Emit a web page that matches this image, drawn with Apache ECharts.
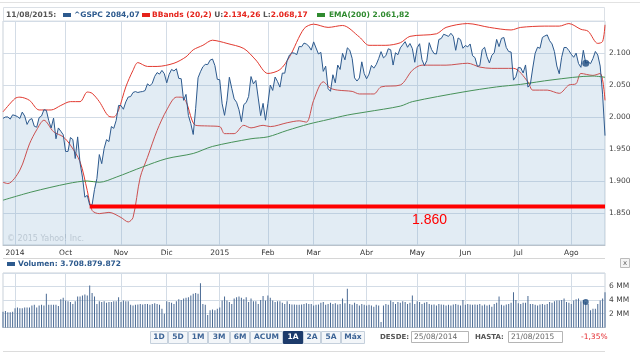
<!DOCTYPE html>
<html>
<head>
<meta charset="utf-8">
<script src="https://cdn.jsdelivr.net/npm/echarts@6/dist/echarts.min.js"></script>
<style>
  html, body { margin: 0; padding: 0; background: #fff; }
  #chart { width: 640px; height: 353px; }
</style>
</head>
<body>
<div id="chart"></div>
<script>
// ---- data ----
const firstDay = '2014-08-25';
const lastDay = '2015-08-21';
const marketHolidays = ['2014-09-01', '2014-11-27', '2014-12-25', '2015-01-01', '2015-01-19',
  '2015-02-16', '2015-04-03', '2015-05-25', '2015-07-03'];
const monthNames = ['Ene', 'Feb', 'Mar', 'Abr', 'May', 'Jun', 'Jul', 'Ago', 'Sep', 'Oct', 'Nov', 'Dic'];

// ^GSPC daily close
const closeValues = [
  1997.9, 2000.0, 2000.1, 1996.7, 2003.4,
  2002.3, 2000.7, 1997.7, 2007.7, 2001.5, 1988.4, 1995.7, 1997.5, 1985.5, 1984.1, 1999.0, 2001.6, 2011.4, 2010.4,
  1994.3, 1982.8, 1998.3, 1966.0, 1982.9, 1977.8, 1972.3,
  1946.2, 1946.2, 1967.9, 1964.8, 1935.1, 1968.9, 1928.2, 1906.1, 1874.7, 1877.7, 1862.5, 1862.8, 1886.8,
  1904.0, 1941.3, 1927.1, 1950.8, 1964.6, 1961.6, 1985.1, 1982.3, 1994.7, 2018.1,
  2017.8, 2012.1, 2023.6, 2031.2, 2031.9, 2038.3, 2039.7, 2038.3, 2039.3, 2039.8, 2041.3, 2051.8, 2048.7,
  2052.8, 2063.5, 2069.4, 2067.0, 2072.8, 2067.6,
  2053.4, 2066.6, 2074.3, 2071.9, 2075.4, 2060.3, 2059.8, 2026.1, 2035.3, 2002.3, 1989.6, 1972.7, 2012.9,
  2061.2, 2070.7, 2078.5, 2082.2, 2081.9, 2088.8, 2090.6, 2080.4, 2058.9,
  2058.2, 2020.6, 2002.6, 2025.9, 2062.1, 2044.8, 2028.3, 2023.0, 2011.3, 1992.7, 2019.4, 2022.6, 2032.1,
  2063.2, 2051.8, 2057.1, 2029.6, 2002.2, 2021.3, 1995.0,
  2020.9, 2050.0, 2041.5, 2062.5, 2055.5, 2046.7, 2068.6, 2068.5, 2088.5, 2097.0, 2100.3, 2099.7, 2097.5,
  2110.3, 2109.7, 2115.5, 2113.9, 2110.7, 2104.5,
  2117.4, 2107.8, 2098.5, 2101.0, 2071.3, 2079.4, 2044.2, 2040.2, 2066.0, 2053.4, 2081.2, 2074.3, 2099.5,
  2089.3, 2108.1, 2104.4, 2091.5, 2061.1, 2056.2, 2061.0, 2086.2, 2067.9,
  2059.7, 2067.0, 2080.6, 2076.3, 2081.9, 2091.2, 2102.1, 2092.4, 2095.8, 2106.6, 2105.0, 2081.2, 2100.4,
  2097.3, 2108.0, 2112.9, 2117.7, 2108.9, 2114.8, 2106.9, 2085.5,
  2108.3, 2114.5, 2089.5, 2080.2, 2088.0, 2116.1, 2105.3, 2099.1, 2098.5, 2121.1, 2122.7, 2129.2, 2127.8,
  2125.9, 2130.8, 2126.1, 2104.2, 2123.5, 2120.8, 2107.4,
  2111.7, 2109.6, 2114.1, 2095.8, 2092.8, 2079.3, 2080.2, 2105.2, 2108.9, 2094.1, 2084.4, 2096.3, 2100.4,
  2121.2, 2110.0, 2122.9, 2124.2, 2108.6, 2102.3, 2101.5, 2057.6, 2063.1,
  2077.4, 2076.8, 2068.8, 2081.3, 2046.7, 2051.3, 2076.6, 2099.6, 2109.0, 2107.4, 2124.3, 2126.6, 2128.3,
  2119.2, 2114.2, 2102.2, 2079.7, 2067.6, 2093.3, 2108.6, 2108.6, 2103.8,
  2098.0, 2093.3, 2099.8, 2083.6, 2077.6, 2104.2, 2084.07, 2086.1, 2083.4, 2091.5, 2102.4, 2096.9, 2079.6,
  2035.7, 1970.9
];

// daily volume, in MM (thousand millions)
const volumeValues = [
  2.3, 2.4, 2.2, 2.2, 2.3,
  2.8, 2.9, 2.8, 2.8, 2.9, 2.9, 2.9, 3.2, 3.3,
  2.9, 3.2, 3.3, 3.2, 4.9,
  3.3, 3.3, 3.3, 3.3, 3.1,
  4.1, 4.3, 3.9, 3.8, 3.7,
  3.4, 3.8, 4.5, 4.5, 4.65,
  4.8, 4.65, 6.1, 5.0, 4.5,
  3.4, 3.8, 3.7, 3.8, 3.6,
  3.7, 3.7, 3.8, 3.8, 4.4,
  3.7, 3.9, 3.8, 3.8, 3.3,
  3.2, 3.3, 3.35, 3.4, 3.35,
  3.4, 3.4, 3.3, 3.4, 3.5,
  3.4, 3.3, 2.7, 2.0,
  3.8, 3.7, 3.6, 3.4, 3.8,
  4.1, 4.0, 4.2, 4.3, 4.4,
  4.65, 4.9, 5.0, 4.9, 6.4,
  3.4, 3.3, 1.8, 2.5, 2.6,
  2.5, 2.7, 2.9, 3.9, 4.5,
  3.9, 3.7, 3.4, 4.2, 4.4,
  4.5, 4.3, 4.1, 4.4, 3.7,
  4.2, 3.8, 3.8, 3.4, 4.0,
  4.55, 3.9, 4.65, 4.3, 3.9,
  3.7, 3.8, 3.8, 3.6, 3.4,
  3.8, 3.4, 3.35, 3.35, 3.3,
  3.3, 3.35, 3.4, 3.5, 3.4,
  3.4, 3.2, 3.3, 3.35, 3.6,
  3.7, 3.3, 3.4, 3.6,
  3.4, 3.5, 3.35, 3.4, 4.2, 3.5,
  5.6,
  3.4, 3.3, 3.6, 3.4, 3.2,
  3.4, 3.3, 3.2, 3.3,
  3.2, 3.0, 3.3, 3.2,
  0.8,
  3.2, 3.4, 3.3, 3.9, 3.7,
  3.4, 3.7, 3.6, 3.8, 3.7,
  3.4, 3.6, 4.65, 3.4, 3.8,
  3.7, 3.4, 3.6, 3.7,
  3.4, 3.3, 3.35, 3.2,
  3.4, 3.35, 3.3, 3.2, 3.3,
  3.2, 3.35, 3.4, 3.3, 3.2,
  4.0, 3.3, 3.4, 3.35, 3.3,
  3.35, 3.3, 3.4, 3.2, 3.35,
  3.2, 3.3, 3.0, 3.4, 3.6,
  4.5, 3.3, 3.2, 3.35, 3.4, 3.6,
  5.1,
  4.0, 3.5, 3.4, 3.6, 3.6,
  4.55,
  3.4, 3.4, 3.3, 3.2, 3.35,
  3.4, 3.3, 3.4, 3.7,
  3.6, 3.8, 3.9, 3.9, 4.0,
  4.2, 3.7, 3.6, 3.4, 3.9,
  4.1, 4.2, 3.8, 4.0, 3.71,
  3.4, 2.5, 2.7, 2.7, 3.4,
  3.9, 4.2, 5.1
];

// BBands (20,2) upper / lower and EMA(200), read at turning points
const bbUpper = [
  ['2014-08-25', 2008], ['2014-09-02', 2029], ['2014-09-04', 2031], ['2014-09-10', 2026], ['2014-09-16', 2011],
  ['2014-09-23', 2011], ['2014-09-29', 2018], ['2014-10-03', 2024], ['2014-10-09', 2024], ['2014-10-14', 2039],
  ['2014-10-16', 2037], ['2014-10-21', 2024], ['2014-10-27', 2001], ['2014-10-29', 2000], ['2014-10-31', 2011],
  ['2014-11-05', 2047], ['2014-11-10', 2073], ['2014-11-12', 2085], ['2014-11-18', 2079], ['2014-11-24', 2079],
  ['2014-12-04', 2084], ['2014-12-11', 2094], ['2014-12-16', 2105], ['2014-12-22', 2112], ['2014-12-29', 2120],
  ['2015-01-02', 2118], ['2015-01-07', 2115], ['2015-01-16', 2107], ['2015-01-26', 2089], ['2015-02-02', 2068],
  ['2015-02-09', 2074], ['2015-02-13', 2094], ['2015-02-24', 2138], ['2015-03-02', 2145], ['2015-03-10', 2140],
  ['2015-03-18', 2143], ['2015-03-27', 2125], ['2015-04-02', 2112], ['2015-04-14', 2112], ['2015-04-22', 2116],
  ['2015-04-28', 2126], ['2015-05-13', 2130], ['2015-05-19', 2140], ['2015-06-02', 2146], ['2015-06-15', 2140],
  ['2015-06-26', 2136], ['2015-07-02', 2140], ['2015-07-17', 2142], ['2015-07-27', 2142], ['2015-07-31', 2146],
  ['2015-08-07', 2137], ['2015-08-12', 2134], ['2015-08-18', 2115], ['2015-08-20', 2118], ['2015-08-21', 2144]
];
const bbLower = [
  ['2014-08-25', 1898], ['2014-08-27', 1896], ['2014-09-04', 1917], ['2014-09-10', 1958], ['2014-09-15', 1980],
  ['2014-09-18', 1995], ['2014-09-24', 1977], ['2014-09-30', 1969], ['2014-10-03', 1956], ['2014-10-09', 1930],
  ['2014-10-14', 1885], ['2014-10-16', 1854], ['2014-10-21', 1849], ['2014-10-27', 1851], ['2014-11-03', 1843],
  ['2014-11-06', 1836], ['2014-11-10', 1843], ['2014-11-13', 1906], ['2014-11-18', 1937], ['2014-11-24', 1979],
  ['2014-12-01', 2011], ['2014-12-05', 2031], ['2014-12-09', 2031], ['2014-12-11', 2024], ['2014-12-17', 1987],
  ['2014-12-24', 1986], ['2015-01-02', 1985], ['2015-01-06', 1974], ['2015-01-12', 1974], ['2015-01-16', 1987],
  ['2015-01-22', 1983], ['2015-01-29', 1987], ['2015-02-03', 1985], ['2015-02-12', 1991], ['2015-02-20', 1994],
  ['2015-02-25', 1992], ['2015-03-02', 2026], ['2015-03-06', 2055], ['2015-03-11', 2045], ['2015-03-16', 2042],
  ['2015-03-24', 2040], ['2015-03-27', 2036], ['2015-04-07', 2036], ['2015-04-10', 2047], ['2015-04-22', 2050],
  ['2015-04-29', 2073], ['2015-05-05', 2081], ['2015-05-19', 2081], ['2015-06-02', 2084], ['2015-06-09', 2078],
  ['2015-06-16', 2076], ['2015-06-29', 2076], ['2015-07-08', 2055], ['2015-07-10', 2042], ['2015-07-20', 2042],
  ['2015-07-27', 2037], ['2015-07-31', 2050], ['2015-08-05', 2052], ['2015-08-07', 2068], ['2015-08-14', 2065],
  ['2015-08-19', 2068], ['2015-08-21', 2026]
];
const ema200 = [
  ['2014-08-25', 1870], ['2014-09-11', 1883], ['2014-10-02', 1896], ['2014-10-14', 1900], ['2014-10-21', 1898],
  ['2014-10-30', 1906], ['2014-11-14', 1922], ['2014-12-01', 1935], ['2014-12-16', 1943], ['2014-12-29', 1954],
  ['2015-01-22', 1966], ['2015-02-02', 1969], ['2015-02-12', 1979], ['2015-02-26', 1989], ['2015-03-10', 1996],
  ['2015-03-20', 2003], ['2015-04-01', 2008], ['2015-04-22', 2017], ['2015-04-29', 2024], ['2015-05-29', 2039],
  ['2015-06-18', 2047], ['2015-07-02', 2051], ['2015-07-22', 2058], ['2015-08-14', 2064], ['2015-08-21', 2062]
];

// hand-drawn support level
const supportLevel = 1860;
const supportFrom = '2014-10-15';
const supportTo = '2015-08-21';

// tooltip readout shown in the header
const cursorDate = '2015-08-11';
const bbUpperAtCursor = 2134.26;
const bbLowerAtCursor = 2068.17;
const emaAtCursor = 2061.82;
const volumeAtCursor = 3708879872;

const rangeButtons = ['1D', '5D', '1M', '3M', '6M', 'ACUM', '1A', '2A', '5A', 'Máx'];
const selectedRange = '1A';
const rangeFrom = '25/08/2014';
const rangeTo = '21/08/2015';
const rangeChange = '-1,35%';

// ---- helpers ----
function tradingDays(from, to, skip) {
  const out = [];
  const d = new Date(from + 'T00:00:00Z');
  const end = new Date(to + 'T00:00:00Z');
  while (d <= end) {
    const s = d.toISOString().slice(0, 10);
    const wd = d.getUTCDay();
    if (wd !== 0 && wd !== 6 && skip.indexOf(s) < 0) out.push(s);
    d.setUTCDate(d.getUTCDate() + 1);
  }
  return out;
}
function fmtEs(v, dec, dots) {
  const parts = v.toFixed(dec).split('.');
  let ip = parts[0];
  if (dots) ip = ip.replace(/\B(?=(\d{3})+(?!\d))/g, '.');
  return parts.length > 1 ? ip + ',' + parts[1] : ip;
}

const dates = tradingDays(firstDay, lastDay, marketHolidays);
const cursorIdx = dates.indexOf(cursorDate);
const isMonthStart = (i) => i > 0 && dates[i].slice(0, 7) !== dates[i - 1].slice(0, 7);
const firstLabelIdx = dates.findIndex((d, i) => isMonthStart(i));
const monthLabel = (value, i) => {
  const m = +value.slice(5, 7);
  if (m === 1 || i === firstLabelIdx) return value.slice(0, 4);
  return monthNames[m - 1];
};

// ---- layout ----
const FONT = 'DejaVu Sans';
const plotLeft = 3, plotRight = 605;
const btnEdges = [150, 168, 188, 208, 230, 250, 283, 303, 321, 341, 365];
const btnTop = 331, btnH = 12;

const chart = echarts.init(document.getElementById('chart'), null, { renderer: 'canvas' });

const gridLine = { show: true, lineStyle: { color: '#d3dce6', width: 1 } };

const graphics = [
  { type: 'line', shape: { x1: 0, y1: 2.5, x2: 640, y2: 2.5 }, style: { stroke: '#e2e2e2' } },
  { type: 'rect', shape: { x: 3.5, y: 7.5, width: 601, height: 13.5 }, style: { fill: '#fff', stroke: '#dbe0e6' } },
  { type: 'text', x: 6, y: 15, style: { text: cursorDate.split('-').reverse().join('/') + ':', fill: '#555',
    font: 'bold 7.5px "' + FONT + '"', verticalAlign: 'middle' } },
  { type: 'rect', shape: { x: 63, y: 13, width: 8, height: 4 }, style: { fill: '#2d5a8e' } },
  { type: 'text', x: 74, y: 15, style: { text: '^GSPC ' + fmtEs(closeValues[cursorIdx], 2, false), fill: '#2d5a8e',
    font: 'bold 7.5px "' + FONT + '"', verticalAlign: 'middle' } },
  { type: 'rect', shape: { x: 142, y: 13, width: 8, height: 4 }, style: { fill: '#e5231b' } },
  { type: 'text', x: 152, y: 15, style: {
    text: '{r|BBands (20,2) }{g|U:}{r|' + fmtEs(bbUpperAtCursor, 2, true) + ' }{g|L:}{r|' + fmtEs(bbLowerAtCursor, 2, true) + '}',
    verticalAlign: 'middle',
    rich: {
      r: { fill: '#e5231b', font: 'bold 7.5px "' + FONT + '"' },
      g: { fill: '#555', font: 'bold 7.5px "' + FONT + '"' }
    } } },
  { type: 'rect', shape: { x: 317, y: 13, width: 8, height: 4 }, style: { fill: '#2f8a2f' } },
  { type: 'text', x: 329, y: 15, style: { text: 'EMA(200) ' + fmtEs(emaAtCursor, 2, true), fill: '#2f8a2f',
    font: 'bold 7.5px "' + FONT + '"', verticalAlign: 'middle' } },
  // watermark
  { type: 'text', x: 7, y: 239, z: 5, style: { text: '© 2015 Yahoo! Inc.', fill: 'rgba(140,155,170,0.45)',
    font: '8px "' + FONT + '"', verticalAlign: 'middle' } },
  // annotation label
  { type: 'text', x: 412, y: 220, z: 20, style: { text: fmtEs(supportLevel, 0, true),
    fill: '#f00', font: '14px "Liberation Sans"', verticalAlign: 'middle' } },
  // separator under x labels
  { type: 'line', shape: { x1: 3, y1: 258.5, x2: 605, y2: 258.5 }, style: { stroke: '#d6d6d6' } },
  // volume legend
  { type: 'rect', shape: { x: 7, y: 262, width: 8, height: 4 }, style: { fill: '#2d5a8e' } },
  { type: 'text', x: 18, y: 264.5, style: { text: 'Volumen: ' + fmtEs(volumeAtCursor, 0, true), fill: '#2d5a8e',
    font: 'bold 7.5px "' + FONT + '"', verticalAlign: 'middle' } },
  { type: 'rect', shape: { x: 620.5, y: 258.5, width: 9, height: 9 }, style: { fill: '#f4f4f4', stroke: '#bbb' } },
  { type: 'text', x: 625, y: 263, style: { text: 'x', fill: '#666', font: '7px "' + FONT + '"', align: 'center', verticalAlign: 'middle' } },
  // bottom rule
  { type: 'line', shape: { x1: 3, y1: 351.5, x2: 605, y2: 351.5 }, style: { stroke: '#dcdcdc' } }
];

rangeButtons.forEach((b, i) => {
  const sel = b === selectedRange;
  graphics.push({ type: 'rect', shape: { x: btnEdges[i] + 0.5, y: btnTop + 0.5, width: btnEdges[i + 1] - btnEdges[i] - 1, height: btnH },
    style: { fill: sel ? '#1d3b6b' : '#f3f6f9', stroke: sel ? '#1d3b6b' : '#c5d0dc' } });
  graphics.push({ type: 'text', x: (btnEdges[i] + btnEdges[i + 1]) / 2, y: btnTop + btnH / 2 + 0.5,
    style: { text: b, fill: sel ? '#fff' : '#3d6496', font: 'bold 7.5px "' + FONT + '"', align: 'center', verticalAlign: 'middle' } });
});
graphics.push(
  { type: 'text', x: 380, y: 337.5, style: { text: 'DESDE:', fill: '#555', font: 'bold 7px "' + FONT + '"', verticalAlign: 'middle' } },
  { type: 'rect', shape: { x: 411.5, y: 331.5, width: 57, height: 11 }, style: { fill: '#fff', stroke: '#b5b5b5' } },
  { type: 'text', x: 414, y: 337.5, style: { text: rangeFrom, fill: '#666', font: '7.5px "' + FONT + '"', verticalAlign: 'middle' } },
  { type: 'text', x: 475, y: 337.5, style: { text: 'HASTA:', fill: '#555', font: 'bold 7px "' + FONT + '"', verticalAlign: 'middle' } },
  { type: 'rect', shape: { x: 508.5, y: 331.5, width: 54, height: 11 }, style: { fill: '#fff', stroke: '#b5b5b5' } },
  { type: 'text', x: 511, y: 337.5, style: { text: rangeTo, fill: '#666', font: '7.5px "' + FONT + '"', verticalAlign: 'middle' } },
  { type: 'text', x: 581, y: 337.5, style: { text: rangeChange, fill: '#e3262b', font: '7.5px "' + FONT + '"', verticalAlign: 'middle' } }
);

const option = {
  animation: false,
  backgroundColor: '#fff',
  grid: [
    { left: plotLeft, right: 640 - plotRight, top: 21, bottom: 108, show: true, borderColor: '#c9d1d9', borderWidth: 1, backgroundColor: '#fff' },
    { left: plotLeft, right: 640 - plotRight, top: 273, bottom: 25.5, show: true, borderColor: '#c9d1d9', borderWidth: 1, backgroundColor: '#fff' }
  ],
  xAxis: [
    {
      type: 'category', gridIndex: 0, data: dates, boundaryGap: false,
      axisLine: { show: true, lineStyle: { color: '#b9c2cb' } },
      axisTick: { show: false },
      axisLabel: { interval: (i) => isMonthStart(i), formatter: monthLabel, color: '#333',
        fontFamily: FONT, fontSize: 7.5, margin: 4 },
      splitLine: { show: true, interval: (i) => isMonthStart(i), lineStyle: { color: '#d3dce6' } }
    },
    {
      type: 'category', gridIndex: 1, data: dates, boundaryGap: false,
      axisLine: { show: true, lineStyle: { color: '#b9c2cb' } },
      axisTick: { show: false },
      axisLabel: { show: false },
      splitLine: { show: true, interval: (i) => isMonthStart(i), lineStyle: { color: '#d3dce6' } }
    }
  ],
  yAxis: [
    {
      type: 'value', gridIndex: 0, position: 'right', min: 1800, max: 2150, interval: 50,
      axisLine: { show: false }, axisTick: { show: false },
      axisLabel: { showMinLabel: false, showMaxLabel: false, color: '#444', fontFamily: FONT, fontSize: 7.5, margin: 4,
        formatter: (v) => fmtEs(v, 0, true) },
      splitLine: gridLine
    },
    {
      type: 'value', gridIndex: 1, position: 'right', min: 0, max: 7.9, interval: 2,
      axisLine: { show: false }, axisTick: { show: false },
      axisLabel: { showMinLabel: false, showMaxLabel: false, color: '#444', fontFamily: FONT, fontSize: 7.5, margin: 4,
        formatter: (v) => v + ' MM' },
      splitLine: gridLine
    }
  ],
  series: [
    {
      name: '^GSPC', type: 'line', xAxisIndex: 0, yAxisIndex: 0, data: closeValues,
      symbol: 'none', z: 3,
      lineStyle: { color: '#2d5a8e', width: 1 },
      areaStyle: { color: 'rgba(118,163,205,0.3)', origin: 'start' }
    },
    {
      name: 'BBands U', type: 'line', xAxisIndex: 0, yAxisIndex: 0, data: bbUpper,
      symbol: 'none', smooth: 0.3, z: 2, lineStyle: { color: '#e23a30', width: 1 }
    },
    {
      name: 'BBands L', type: 'line', xAxisIndex: 0, yAxisIndex: 0, data: bbLower,
      symbol: 'none', smooth: 0.3, z: 2, lineStyle: { color: '#e23a30', width: 1 }
    },
    {
      name: 'EMA(200)', type: 'line', xAxisIndex: 0, yAxisIndex: 0, data: ema200,
      symbol: 'none', smooth: 0.3, z: 2, lineStyle: { color: '#3b8d3b', width: 1 }
    },
    {
      name: 'cursor', type: 'scatter', xAxisIndex: 0, yAxisIndex: 0,
      data: [[cursorDate, closeValues[cursorIdx]]], symbolSize: 7, z: 6,
      itemStyle: { color: '#1f4c80' }
    },
    {
      name: 'soporte', type: 'line', xAxisIndex: 0, yAxisIndex: 0,
      data: [[supportFrom, supportLevel], [supportTo, supportLevel]],
      symbol: 'none', z: 10, clip: false, lineStyle: { color: '#f00', width: 4 }
    },
    {
      name: 'Volumen', type: 'bar', xAxisIndex: 1, yAxisIndex: 1, data: volumeValues,
      barWidth: 1, itemStyle: { color: '#4a6a94' }
    },
    {
      name: 'cursorVol', type: 'scatter', xAxisIndex: 1, yAxisIndex: 1,
      data: [[cursorDate, volumeValues[cursorIdx]]], symbolSize: 6, z: 6,
      itemStyle: { color: '#1f4c80' }
    }
  ],
  graphic: graphics
};

chart.setOption(option);
</script>
</body>
</html>
